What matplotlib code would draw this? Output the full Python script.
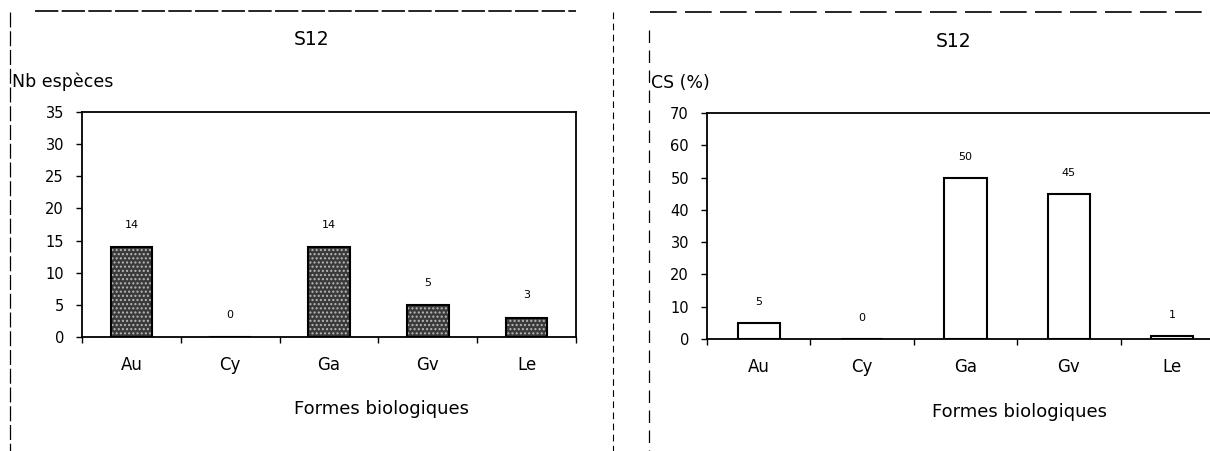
import matplotlib
matplotlib.use("Agg")
import matplotlib.pyplot as plt
from matplotlib.lines import Line2D
import numpy as np

plt.rcParams['font.family'] = ['DejaVu Sans']

categories = ["Au", "Cy", "Ga", "Gv", "Le"]
nb_especes = [14, 0, 14, 5, 3]
cs_percent = [5, 0, 50, 45, 1]
left_yticks = [0, 5, 10, 15, 20, 25, 30, 35]
right_yticks = [0, 10, 20, 30, 40, 50, 60, 70]
title = "S12"
xlabel = "Formes biologiques"
left_ylabel = "Nb espèces"
right_ylabel = "CS (%)"

W, H = 1210, 451
fig = plt.figure(figsize=(W / 100, H / 100), dpi=100)
fig.patch.set_facecolor("white")


def px_axes(x0, y_top, x1, y_bot):
    return fig.add_axes([x0 / W, 1 - y_bot / H, (x1 - x0) / W, (y_bot - y_top) / H])


def ftext(x, y, s, **kw):
    fig.text(x / W, 1 - y / H, s, **kw)


def fline(xs, ys, **kw):
    fig.add_artist(Line2D([x / W for x in xs], [1 - y / H for y in ys],
                          transform=fig.transFigure, color="black", **kw))


def style_axes(ax, ymax, yticks):
    n = len(categories)
    ax.set_xlim(0, n)
    ax.set_ylim(0, ymax)
    ax.set_yticks(yticks)
    ax.set_yticklabels([str(t) for t in yticks], fontsize=10.5)
    ax.set_xticks(np.arange(n + 1))
    ax.set_xticklabels([])
    ax.set_xticks(np.arange(n) + 0.5, minor=True)
    ax.set_xticklabels(categories, minor=True, fontsize=12)
    ax.tick_params(axis="x", which="minor", length=0, pad=14)
    ax.tick_params(axis="x", which="major", length=4, direction="out", width=1)
    ax.tick_params(axis="y", length=4, direction="out", width=1, pad=9)
    for sp in ax.spines.values():
        sp.set_linewidth(1.3)


x = np.arange(len(categories)) + 0.5

# Left panel
ax1 = px_axes(82, 112, 576, 337)
style_axes(ax1, 35, left_yticks)
ax1.bar(x, nb_especes, width=0.42, color="#3a3a3a", edgecolor="#b8b8b8",
        hatch="....", linewidth=0, zorder=2)
ax1.bar(x, nb_especes, width=0.42, fill=False, edgecolor="black",
        linewidth=1.5, zorder=3)
for xi, v in zip(x, nb_especes):
    ax1.annotate(str(v), (xi, v), xytext=(0, 16), textcoords="offset points",
                 ha="center", va="center", fontsize=8)

# Right panel
ax2 = px_axes(707, 113, 1224, 339)
style_axes(ax2, 70, right_yticks)
ax2.bar(x, cs_percent, width=0.41, color="white", edgecolor="black",
        linewidth=1.5, zorder=3)
for xi, v in zip(x, cs_percent):
    ax2.annotate(str(v), (xi, v), xytext=(0, 15), textcoords="offset points",
                 ha="center", va="center", fontsize=8)

# Titles and labels
ftext(312, 45, title, ha="center", va="baseline", fontsize=13.5)
ftext(954, 47, title, ha="center", va="baseline", fontsize=13.5)
ftext(12, 87, left_ylabel, ha="left", va="baseline", fontsize=12.5)
ftext(651, 88, right_ylabel, ha="left", va="baseline", fontsize=12.5)
ftext(381, 414, xlabel, ha="center", va="baseline", fontsize=13)
ftext(1020, 417, xlabel, ha="center", va="baseline", fontsize=13)

# Scanned frame lines (dashed)
fline([35, 576], [11, 11], linestyle=(0, (14, 2)), linewidth=1.2)
fline([650, 1210], [12, 12], linestyle=(0, (16, 5)), linewidth=1.2)
fline([10, 10], [12, 451], linestyle=(0, (12, 3)), linewidth=0.9)
fline([613, 613], [12, 451], linestyle=(0, (6, 4)), linewidth=0.8)
fline([649, 649], [30, 451], linestyle=(0, (10, 6)), linewidth=0.9)

fig.savefig("out.png", dpi=100)
